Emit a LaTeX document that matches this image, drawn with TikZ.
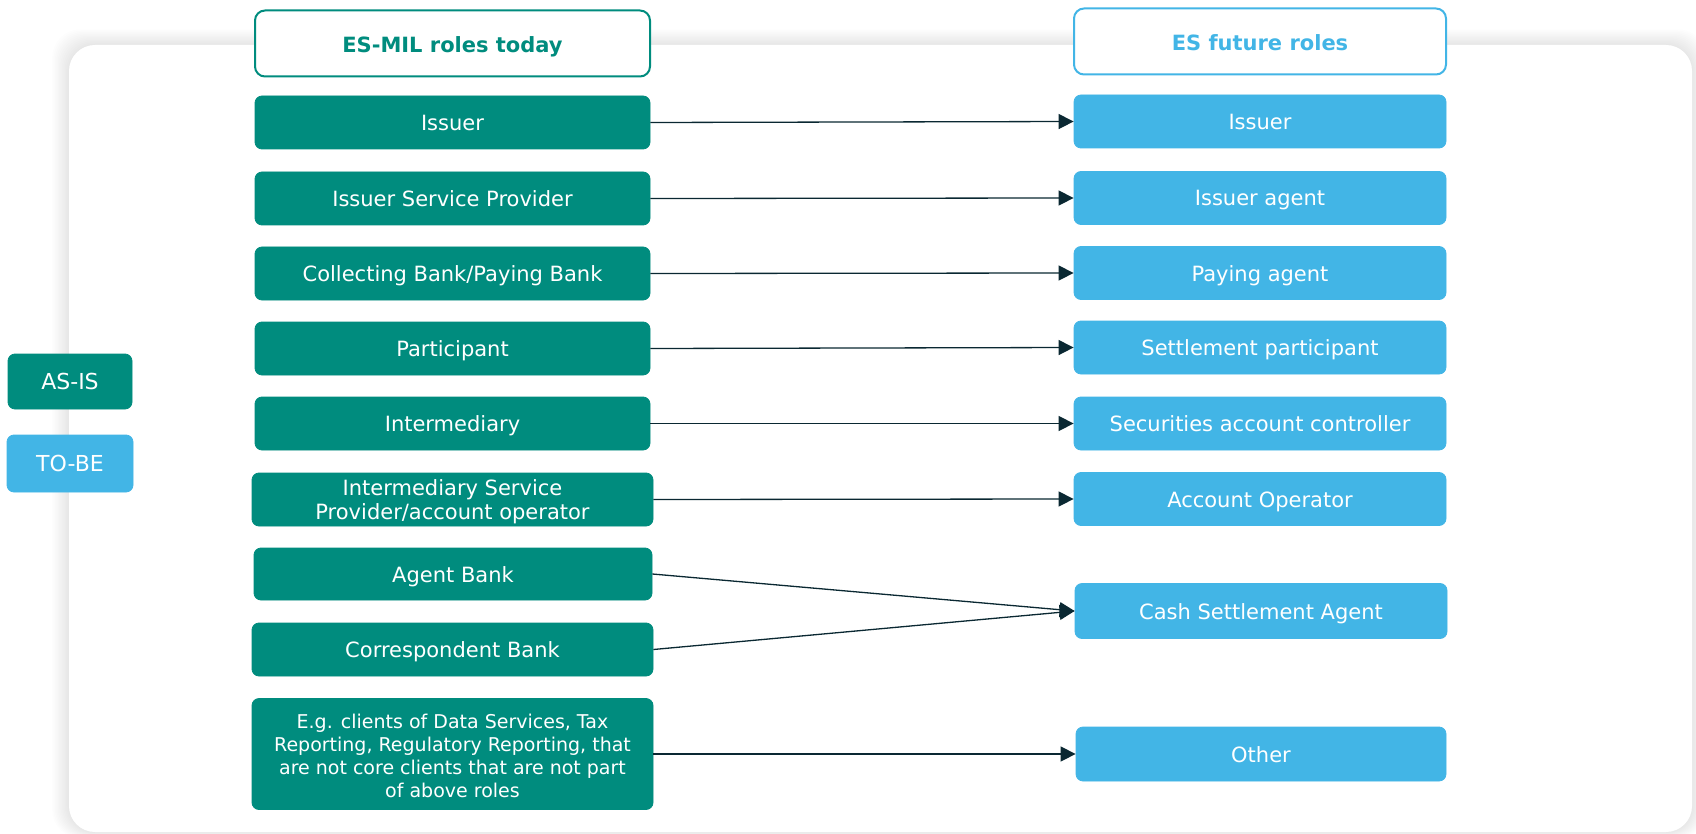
\documentclass[tikz,border=0pt]{standalone}
\usepackage{fontspec}
\setmainfont{DejaVu Sans}
\usetikzlibrary{arrows.meta}
\definecolor{teal1}{RGB}{0,140,126}
\definecolor{blue1}{RGB}{66,181,230}
\definecolor{arrowc}{RGB}{10,40,50}
\tikzset{
  lbox/.style={draw=teal1, fill=teal1, rounded corners=7pt, inner sep=0pt, text=white, line width=0.8pt,
    font=\fontsize{21}{25}\selectfont, align=center},
  rbox/.style={draw=blue1, fill=blue1, rounded corners=7pt, inner sep=0pt, text=white, line width=0.8pt,
    font=\fontsize{21}{25}\selectfont, align=center, minimum width=372pt, minimum height=53pt},
  oneline/.style={text height=16pt, text depth=0pt},
  lhead/.style={draw=teal1, fill=white, line width=2pt, rounded corners=10pt, inner sep=0pt, text=teal1,
    font=\bfseries\fontsize{21}{25}\selectfont, minimum width=395pt, minimum height=66pt,
    text height=18pt, text depth=0pt},
  rhead/.style={draw=blue1, fill=white, line width=2pt, rounded corners=10pt, inner sep=0pt, text=blue1,
    font=\bfseries\fontsize{21}{25}\selectfont, minimum width=372pt, minimum height=66pt,
    text height=18pt, text depth=0pt},
  conn/.style={draw=arrowc, line width=1.3pt, -{Triangle[length=15pt,width=15pt]}},
}
\begin{document}
\begin{tikzpicture}[x=1pt,y=-1pt]
\useasboundingbox (0,0) rectangle (1696,834);
% card shadow
\foreach \i in {1,...,12} {
  \fill[black, opacity=0.009, rounded corners=28pt] (69-1.4*\i,45-1.3*\i) rectangle (1692+1.2*\i,832+0.5*\i);
}
\fill[white, rounded corners=26pt] (69,45) rectangle (1692,832);
% legend
\node[lbox, oneline, minimum width=124pt, minimum height=55pt, font=\fontsize{22}{26}\selectfont] (asis) at (70,381.5) {AS-IS};
\node[rbox, oneline, minimum width=126pt, minimum height=57pt, font=\fontsize{22}{26}\selectfont] (tobe) at (70,463.5) {TO-BE};
% headers
\node[lhead] (lh) at (452.5,43.5) {ES-MIL roles today};
\node[rhead] (rh) at (1260,41.5) {ES future roles};
% left boxes
\node[lbox, oneline, minimum width=395pt, minimum height=53pt] (l1) at (452.5,122.5) {Issuer};
\node[lbox, oneline, minimum width=395pt, minimum height=53pt] (l2) at (452.5,198.5) {Issuer Service Provider};
\node[lbox, oneline, minimum width=395pt, minimum height=53pt] (l3) at (452.5,273.5) {Collecting Bank/Paying Bank};
\node[lbox, oneline, minimum width=395pt, minimum height=53pt] (l4) at (452.5,348.5) {Participant};
\node[lbox, oneline, minimum width=395pt, minimum height=53pt] (l5) at (452.5,423.5) {Intermediary};
\node[lbox, minimum width=401pt, minimum height=53pt, font=\fontsize{21}{24}\selectfont] (l6) at (452.5,499.5) {\rule{0pt}{19.5pt}Intermediary Service\\Provider/account operator};
\node[lbox, oneline, minimum width=398pt, minimum height=52pt] (l7) at (453,574) {Agent Bank};
\node[lbox, oneline, minimum width=401pt, minimum height=53pt] (l8) at (452.5,649.5) {Correspondent Bank};
\node[lbox, minimum width=401pt, minimum height=111pt, font=\fontsize{19}{23}\selectfont] (l9) at (452.5,754) {\rule{0pt}{19pt}E.g. clients of Data Services, Tax\\Reporting, Regulatory Reporting, that\\are not core clients that are not part\\of above roles};
% right boxes
\node[rbox, oneline] (r1) at (1260,121.5) {Issuer};
\node[rbox, oneline] (r2) at (1260,198) {Issuer agent};
\node[rbox, oneline] (r3) at (1260,273) {Paying agent};
\node[rbox, oneline] (r4) at (1260,347.5) {Settlement participant};
\node[rbox, oneline] (r5) at (1260,423.5) {Securities account controller};
\node[rbox, oneline] (r6) at (1260,499) {Account Operator};
\node[rbox, oneline, minimum height=55pt] (r7) at (1261,611) {Cash Settlement Agent};
\node[rbox, oneline, minimum width=370pt, minimum height=54pt] (r8) at (1261,754) {Other};
% connectors
\draw[conn] (l1.east) -- (r1.west);
\draw[conn] (l2.east) -- (r2.west);
\draw[conn] (l3.east) -- (r3.west);
\draw[conn] (l4.east) -- (r4.west);
\draw[conn] (l5.east) -- (r5.west);
\draw[conn] (l6.east) -- (r6.west);
\draw[conn] (l7.east) -- (r7.west);
\draw[conn] (l8.east) -- (r7.west);
\draw[conn] (l9.east) -- (r8.west);
\end{tikzpicture}
\end{document}
